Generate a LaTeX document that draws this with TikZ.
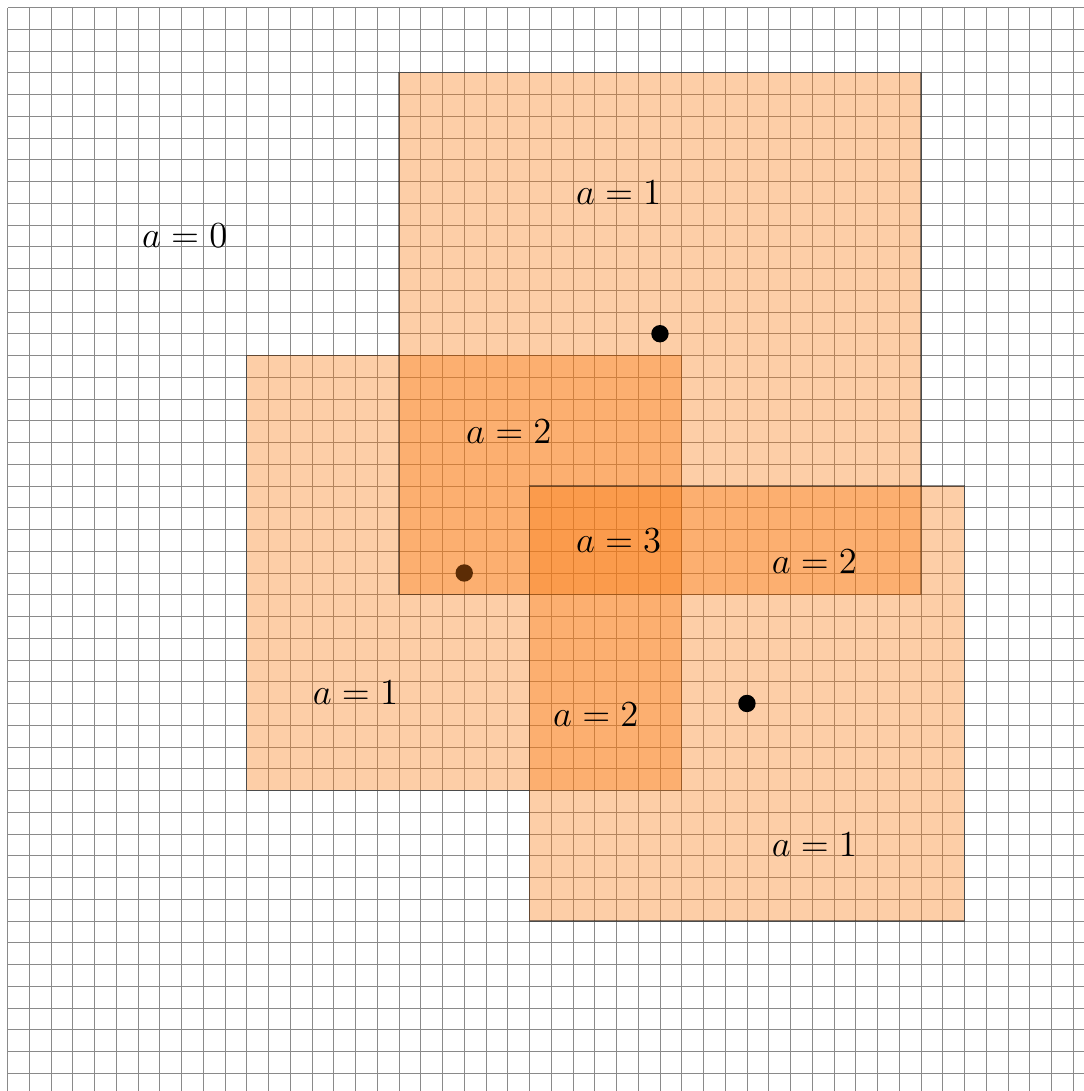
\documentclass[tikz,border=0pt]{standalone}
\usepackage{xcolor}
\usepackage{tikz}
\usetikzlibrary{
  positioning
}
\definecolor{RegionOrange}{HTML}{FA7A10}
\definecolor{GridGray}{HTML}{8A8A8A}
\tikzset{
  gridline/.style={
    draw=GridGray,
    line width=0.25pt
  },
  region/.style={
    fill=RegionOrange,
    fill opacity=0.37,
    draw=black,
    draw opacity=0.45,
    line width=0.4pt
  },
  centerdot/.style={
    fill=black
  },
  countlabel/.style={
    font=\large,
    inner sep=0pt
  }
}

\begin{document}
\begin{tikzpicture}[x=0.25cm, y=-0.25cm]

  \clip (-0.345,-0.345) rectangle (49.49,49.82);

  % background grid
  \draw[gridline, step=0.25cm] (0,0) grid (50,50);

  % centres of the three squares
  \coordinate (cleft) at (21,26);
  \coordinate (ctop) at (30,15);
  \coordinate (cright) at (34,32);

  % left square
  \draw[region] (11,16) rectangle (31,36);
  \fill[centerdot] (cleft) circle[radius=0.4];

  % top square
  \draw[region] (18,3) rectangle (42,27);
  \fill[centerdot] (ctop) circle[radius=0.4];

  % lower right square
  \draw[region] (24,22) rectangle (44,42);
  \fill[centerdot] (cright) circle[radius=0.4];

  % counts
  \node[countlabel] (zero) at (8.15,10.5) {$a=0$};
  \node[countlabel] (onetop) at (28.1,8.5) {$a=1$};
  \node[countlabel] (twoleft) at (23.05,19.5) {$a=2$};
  \node[countlabel] (three) at (28.1,24.5) {$a=3$};
  \node[countlabel] (tworight) at (37.1,25.5) {$a=2$};
  \node[countlabel] (oneleft) at (16.0,31.5) {$a=1$};
  \node[countlabel] (twolow) at (27.05,32.5) {$a=2$};
  \node[countlabel] (onelow) at (37.1,38.5) {$a=1$};

\end{tikzpicture}
\end{document}
